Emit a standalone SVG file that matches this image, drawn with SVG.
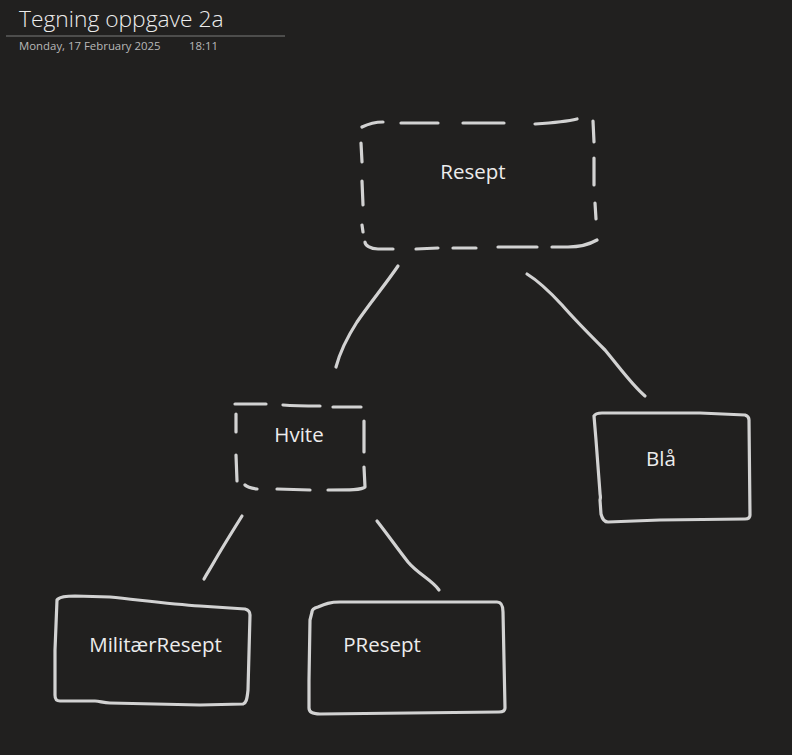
<svg xmlns="http://www.w3.org/2000/svg" width="792" height="755" viewBox="0 0 792 755">
<style>
.ink{fill:none;stroke:#d2d2d2;stroke-width:3.2;stroke-linecap:round;stroke-linejoin:round}
.lbl{font-family:"Open Sans","Noto Sans","Liberation Sans",sans-serif;font-size:20.5px;fill:#ececec}
.meta{font-family:"Open Sans","Noto Sans","Liberation Sans",sans-serif;font-size:11.4px;fill:#b8b8b8}
</style>
<rect width="792" height="755" fill="#21201f"/>
<g id="header">
<text x="19" y="27" font-family="'Open Sans','Noto Sans','Liberation Sans',sans-serif" font-size="22.8" font-weight="300" fill="#ececec">Tegning oppgave 2a</text>
<line x1="6" y1="36" x2="285" y2="36" stroke="#7a7a7a" stroke-width="1"/>
<text class="meta" x="19" y="50">Monday, 17 February 2025</text>
<text class="meta" x="189" y="50">18:11</text>
</g>
<g id="connectors">
<path class="ink" d="M398,266 C385,285 370,303 357,322 C348,336 340,352 336,367"/>
<path class="ink" d="M527,274 C540,282 550,292 562,305 C575,320 590,335 605,350 C620,368 632,385 645,396"/>
<path class="ink" d="M242,516 C232,532 222,548 214,562 C210,569 206,575 204,579"/>
<path class="ink" d="M377,521 C388,535 397,548 408,562 C418,574 432,580 439,590"/>
</g>
<g id="resept">
<path class="ink" d="M362,127 C368,124 375,122 383,122 M401,123 L438,123 M463,123 L504,123 M535,124 C550,123 565,122 577,119 M593,121 L594,142 M594,158 L594,185 M595,203 L596,219 M597,240 C590,244 580,247 568,247 L552,247 M537,247 L498,247 M476,248 L453,248 M438,248 L416,249 M393,249 L378,249 C370,249 365,245 365,242 M363,232 L362,225 M363,205 L362,181 M362,162 L361,143"/>
<text class="lbl" x="473" y="179" text-anchor="middle">Resept</text>
</g>
<g id="hvite">
<path class="ink" d="M235,404 L266,404 M283,405 C295,406 308,406 320,406 M333,407 L361,407 M364,421 L364,452 M364,467 L365,487 C362,490 350,490 328,490 M310,490 L277,489 M257,489 C250,488 247,487 245,485 M237,481 L236,455 M236,432 L236,414"/>
<text class="lbl" x="299" y="442" text-anchor="middle">Hvite</text>
</g>
<g id="bla">
<path class="ink" d="M594,416 C595,414 598,413 602,413 L700,413 L745,415 C748,416 749,418 749,420 L750,515 C750,518 748,519 745,519 L660,520 L608,522 C604,522 602,518 601,514 L600,500 C601,497 600,495 600,493 L596,440 Z"/>
<text class="lbl" x="661" y="466" text-anchor="middle">Blå</text>
</g>
<g id="militaer">
<path class="ink" d="M58,599 C60,597 65,596 75,596 L110,597 C140,600 170,604 200,606 L245,609 C249,610 250,612 250,615 L248,690 C247,700 246,703 243,704 L200,705 L110,703 C103,703 100,701 95,701 L60,701 C56,701 55,699 55,695 L55,650 L57,600 Z"/>
<text class="lbl" x="155.5" y="652" text-anchor="middle">MilitærResept</text>
</g>
<g id="presept">
<path class="ink" d="M312,612 C312,609 314,608 318,607 C325,604 330,602 340,602 L497,602 C501,602 503,606 503,612 L505,708 C505,711 503,712 499,712 L320,714 C312,714 309,712 309,708 L309,680 L310,620 Z"/>
<text class="lbl" x="382" y="652" text-anchor="middle">PResept</text>
</g>
</svg>
